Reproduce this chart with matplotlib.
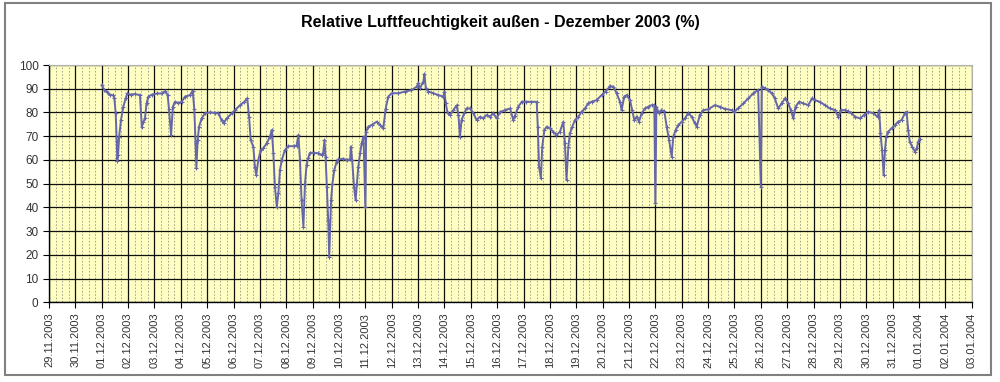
import numpy as np
import matplotlib
matplotlib.use('Agg')
import matplotlib.pyplot as plt
import matplotlib.dates as mdates
from matplotlib.patches import Rectangle
from datetime import datetime, timedelta

# Tage seit 01.12.2003 00:00 und rel. Feuchte in %
tage = [0.00, 0.10, 0.19, 0.30, 0.44, 0.48, 0.53, 0.57, 0.59, 0.62, 0.66, 0.73, 0.82, 0.91, 0.97,
        1.10, 1.25, 1.45, 1.52, 1.58, 1.64, 1.70, 1.77, 1.90, 2.10, 2.30, 2.40, 2.50, 2.55, 2.63,
        2.70, 2.78, 2.91, 3.03, 3.16, 3.35, 3.45, 3.51, 3.56, 3.59, 3.64, 3.69, 3.79, 3.92,
        4.10, 4.30, 4.42, 4.55, 4.62, 4.74, 4.93, 5.06, 5.25, 5.41, 5.52, 5.59, 5.65, 5.75,
        5.81, 5.86, 5.94, 6.03, 6.13, 6.26, 6.38, 6.45, 6.51, 6.57, 6.64, 6.70, 6.76, 6.83,
        6.95, 7.08, 7.30, 7.39, 7.46, 7.52, 7.58, 7.65, 7.71, 7.77, 7.84, 7.90, 8.05, 8.20,
        8.35, 8.40, 8.45, 8.49, 8.54, 8.59, 8.63, 8.70, 8.75, 8.82, 8.91, 8.98, 9.15, 9.30,
        9.42, 9.45, 9.50, 9.57, 9.63, 9.68, 9.73, 9.80, 9.86, 9.93, 10.00, 10.03, 10.11,
        10.24, 10.43, 10.56, 10.68, 10.77, 10.87, 11.00, 11.25, 11.50, 11.75, 11.95, 12.00,
        12.07, 12.20, 12.24, 12.29, 12.39, 12.58, 12.77, 12.96, 13.00, 13.05, 13.12, 13.21,
        13.34, 13.46, 13.53, 13.59, 13.65, 13.75, 13.84, 13.97, 14.10, 14.22, 14.35, 14.47,
        14.60, 14.73, 14.85, 14.98, 15.11, 15.30, 15.49, 15.61, 15.67, 15.80, 15.93, 16.10,
        16.30, 16.50, 16.54, 16.59, 16.66, 16.71, 16.79, 16.88, 17.00, 17.13, 17.25, 17.38,
        17.51, 17.57, 17.63, 17.70, 17.76, 17.85, 17.95, 18.08, 18.20, 18.33, 18.45, 18.58,
        18.77, 18.96, 19.11, 19.28, 19.41, 19.53, 19.66, 19.72, 19.82, 19.91, 20.04, 20.12,
        20.20, 20.29, 20.38, 20.48, 20.61, 20.73, 20.86, 20.96, 21.00, 21.04, 21.13, 21.23,
        21.34, 21.43, 21.52, 21.62, 21.68, 21.77, 21.87, 22.00, 22.12, 22.25, 22.38, 22.50,
        22.57, 22.69, 22.82, 23.00, 23.26, 23.45, 23.64, 23.89, 24.00, 24.13, 24.34, 24.53,
        24.72, 24.90, 25.00, 25.04, 25.16, 25.28, 25.41, 25.53, 25.66, 25.79, 25.92, 26.04,
        26.14, 26.23, 26.32, 26.45, 26.61, 26.80, 26.95, 27.05, 27.24, 27.43, 27.62, 27.81,
        27.94, 28.04, 28.19, 28.32, 28.44, 28.57, 28.76, 28.92, 29.07, 29.26, 29.43, 29.49,
        29.54, 29.60, 29.66, 29.71, 29.76, 29.83, 29.96, 30.09, 30.21, 30.34, 30.47, 30.53,
        30.59, 30.65, 30.74, 30.85, 30.92, 30.97, 31.03]
feuchte = [91.5, 89.5, 88.8, 87.5, 87.2, 86.0, 79.6, 68.0, 59.5, 62.0, 69.8, 76.8, 82.5, 86.0, 88.0,
           87.5, 87.8, 87.3, 74.0, 76.0, 77.5, 83.8, 86.7, 87.5, 88.0, 88.0, 89.0, 87.5, 81.5, 70.5,
           82.5, 84.5, 84.0, 84.5, 86.7, 87.3, 89.2, 81.6, 67.0, 56.5, 68.4, 74.0, 77.5, 79.7,
           80.0, 79.8, 79.6, 76.8, 75.4, 77.5, 79.6, 81.0, 83.1, 84.5, 86.0, 78.2, 68.4, 65.6,
           57.0, 53.6, 60.0, 64.2, 65.0, 67.0, 69.8, 72.6, 62.8, 48.7, 40.3, 45.9, 55.7, 60.0,
           64.2, 65.8, 65.8, 66.0, 70.5, 60.0, 43.0, 31.9, 50.0, 58.0, 61.0, 63.0, 63.0, 62.8,
           62.0, 63.0, 68.4, 61.4, 48.7, 34.7, 19.2, 43.0, 50.0, 55.7, 59.2, 60.2, 60.5, 60.0,
           60.2, 65.6, 60.0, 48.7, 43.0, 50.0, 57.0, 62.8, 67.0, 69.8, 40.0, 71.9, 74.0,
           74.7, 76.1, 74.7, 73.3, 81.6, 86.7, 88.1, 88.1, 88.8, 89.4, 90.9, 92.3,
           90.2, 93.0, 96.2, 90.5, 88.8, 88.1, 87.3, 86.7, 88.8, 83.8, 79.7, 79.0,
           81.0, 83.0, 79.0, 69.8, 76.8, 79.7, 81.7, 81.7, 79.7, 76.8, 78.2, 77.5,
           79.0, 78.2, 79.7, 77.5, 80.2, 81.0, 81.7, 76.8, 78.5, 82.4, 84.5, 84.5,
           84.5, 84.5, 74.0, 57.0, 52.2, 65.6, 72.6, 74.0, 73.3, 71.9, 70.5, 71.9,
           76.1, 67.0, 51.5, 65.6, 71.2, 74.0, 76.8, 78.2, 80.3, 81.7, 83.8, 84.5,
           85.2, 87.3, 88.8, 91.1, 90.9, 88.1, 84.5, 81.0, 86.7, 87.3, 85.2, 81.0,
           76.8, 78.2, 76.1, 79.7, 81.7, 82.4, 83.1, 83.1, 41.8, 82.4, 79.7, 81.0,
           80.5, 74.0, 68.4, 61.4, 69.8, 72.6, 74.7, 76.1, 77.5, 79.7, 78.2, 75.4,
           74.0, 79.0, 81.0, 81.3, 83.1, 82.4, 81.5, 81.0, 80.3, 81.7, 83.8, 86.0,
           88.1, 89.5, 48.7, 90.9, 90.2, 89.5, 88.1, 86.0, 81.7, 83.8, 86.0, 83.8,
           81.0, 77.5, 82.4, 84.5, 83.8, 83.1, 86.0, 85.2, 84.5, 83.1, 81.7, 81.0,
           78.2, 81.0, 81.0, 80.5, 79.7, 78.2, 77.5, 79.0, 80.3, 79.7, 78.2, 81.0,
           71.2, 64.2, 53.6, 64.2, 69.8, 71.9, 73.3, 74.7, 76.1, 76.8, 79.7, 80.3,
           72.6, 67.6, 65.6, 63.5, 64.9, 67.6, 69.0]

start = datetime(2003, 12, 1)
x_von = datetime(2003, 11, 29)
x_bis = datetime(2004, 1, 3)
y_ticks = list(range(0, 101, 10))

plt.rcParams['font.family'] = ['Liberation Sans', 'DejaVu Sans']

fig = plt.figure(figsize=(10, 3.82), dpi=100)
fig.patch.set_facecolor('white')
# grauer Rahmen um das ganze Diagramm
fig.patches.append(Rectangle((0.005, 0.018), 0.986, 0.974, transform=fig.transFigure,
                             fill=False, edgecolor='#808080', linewidth=1.5))

ax = fig.add_axes([0.049, 0.2086, 0.9227, 0.6212])
ax.set_facecolor('#FFFFC4')

x = [start + timedelta(days=t) for t in tage]
ax.plot(x, feuchte, color='#6666AA', linewidth=1.4, marker='+', markersize=3.5,
        markeredgewidth=0.8, zorder=3)

ax.set_xlim(x_von, x_bis)
ax.set_ylim(0, 100)
ax.set_yticks(y_ticks)
ax.xaxis.set_major_locator(mdates.DayLocator())
ax.xaxis.set_minor_locator(mdates.HourLocator(byhour=[6, 12, 18]))
ax.xaxis.set_major_formatter(mdates.DateFormatter('%d.%m.%Y'))

ax.grid(which='major', color='#101010', linewidth=0.9)
ax.grid(which='minor', axis='x', color='#9a9a80', linewidth=0.6, linestyle=(0, (2, 2)))
ax.set_axisbelow(True)

for lbl in ax.get_xticklabels():
    lbl.set_rotation(90)
ax.tick_params(axis='x', which='major', labelsize=8, colors='black', length=4, labelcolor='#333333')
ax.tick_params(axis='x', which='minor', length=0)
ax.tick_params(axis='y', labelsize=8.5, length=4, labelcolor='#333333')

for s in ['left', 'bottom']:
    ax.spines[s].set_color('black')
    ax.spines[s].set_linewidth(1.0)
for s in ['top', 'right']:
    ax.spines[s].set_color('#b0b0b0')
    ax.spines[s].set_linewidth(0.8)

fig.text(0.5, 0.94, 'Relative Luftfeuchtigkeit außen - Dezember 2003 (%)',
         ha='center', va='center', fontsize=11.5, fontweight='bold', color='black')

fig.savefig('out.png', dpi=100, facecolor='white')
